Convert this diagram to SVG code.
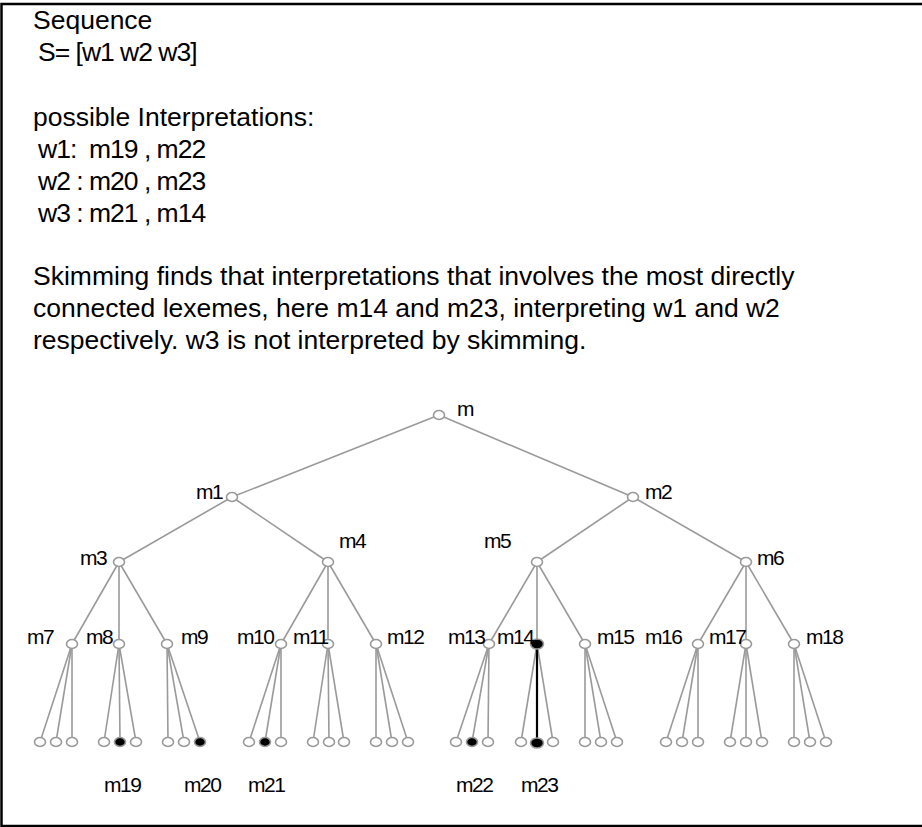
<svg xmlns="http://www.w3.org/2000/svg" width="922" height="827" viewBox="0 0 922 827">
  <style>
    .txt{font-family:"Liberation Sans",Arial,sans-serif;font-size:26.5px;fill:#000}
    .lbl{font-family:"Liberation Sans",Arial,sans-serif;font-size:21px;fill:#000;letter-spacing:-1.5px}
    .edge{stroke:#9a9a9a;stroke-width:1.6;fill:none}
    .strong{stroke:#000;stroke-width:2.2;fill:none}
    .node{fill:#fff;stroke:#9a9a9a;stroke-width:1.6}
    .hit{fill:#000;stroke:#9a9a9a;stroke-width:1.6}
  </style>

  <rect x="0" y="0" width="922" height="827" fill="#fff"/>
  <!-- outer frame (right edge runs past the canvas) -->
  <rect x="1.5" y="4" width="940" height="822" fill="none" stroke="#000" stroke-width="2.5"/>

  <!-- explanatory text -->
  <g id="notes" class="txt">
    <text x="33" y="29">Sequence</text>
    <text x="38" y="61" letter-spacing="-1">S= [w1 w2 w3]</text>
    <text x="33" y="126">possible Interpretations:</text>
    <text x="38" y="158" xml:space="preserve" letter-spacing="-1">w1:  m19 , m22</text>
    <text x="38" y="190" letter-spacing="-1">w2 : m20 , m23</text>
    <text x="38" y="222" letter-spacing="-1">w3 : m21 , m14</text>
    <text x="33" y="285">Skimming finds that interpretations that involves the most directly</text>
    <text x="33" y="317">connected lexemes, here m14 and m23, interpreting w1 and w2</text>
    <text x="33" y="349">respectively. w3 is not interpreted by skimming.</text>
  </g>

  <!-- tree edges -->
  <g id="connectors">
    <g class="edge">
      <line x1="439" y1="415" x2="232" y2="497"/>
      <line x1="439" y1="415" x2="633" y2="497"/>
      <line x1="232" y1="497" x2="119" y2="562"/>
      <line x1="232" y1="497" x2="328" y2="562"/>
      <line x1="633" y1="497" x2="537" y2="562"/>
      <line x1="633" y1="497" x2="746" y2="562"/>
      <line x1="119" y1="562" x2="72" y2="644"/>
      <line x1="119" y1="562" x2="119" y2="644"/>
      <line x1="119" y1="562" x2="167" y2="644"/>
      <line x1="328" y1="562" x2="281" y2="644"/>
      <line x1="328" y1="562" x2="328" y2="644"/>
      <line x1="328" y1="562" x2="376" y2="644"/>
      <line x1="537" y1="562" x2="489" y2="644"/>
      <line x1="537" y1="562" x2="537" y2="644"/>
      <line x1="537" y1="562" x2="585" y2="644"/>
      <line x1="746" y1="562" x2="698" y2="644"/>
      <line x1="746" y1="562" x2="746" y2="644"/>
      <line x1="746" y1="562" x2="794" y2="644"/>
      <!-- m7 -->
      <line x1="72" y1="644" x2="40" y2="742"/>
      <line x1="72" y1="644" x2="56" y2="742"/>
      <line x1="72" y1="644" x2="72" y2="742"/>
      <!-- m8 -->
      <line x1="119" y1="644" x2="104" y2="742"/>
      <line x1="119" y1="644" x2="120" y2="742"/>
      <line x1="119" y1="644" x2="136" y2="742"/>
      <!-- m9 -->
      <line x1="167" y1="644" x2="168" y2="742"/>
      <line x1="167" y1="644" x2="184" y2="742"/>
      <line x1="167" y1="644" x2="200" y2="742"/>
      <!-- m10 -->
      <line x1="281" y1="644" x2="249" y2="742"/>
      <line x1="281" y1="644" x2="265" y2="742"/>
      <line x1="281" y1="644" x2="281" y2="742"/>
      <!-- m11 -->
      <line x1="328" y1="644" x2="313" y2="742"/>
      <line x1="328" y1="644" x2="329" y2="742"/>
      <line x1="328" y1="644" x2="344" y2="742"/>
      <!-- m12 -->
      <line x1="376" y1="644" x2="376" y2="742"/>
      <line x1="376" y1="644" x2="392" y2="742"/>
      <line x1="376" y1="644" x2="408" y2="742"/>
      <!-- m13 -->
      <line x1="489" y1="644" x2="456" y2="742"/>
      <line x1="489" y1="644" x2="472" y2="742"/>
      <line x1="489" y1="644" x2="488" y2="742"/>
      <!-- m14 -->
      <line x1="537" y1="644" x2="521" y2="742"/>
      <line x1="537" y1="644" x2="553" y2="742"/>
      <!-- m15 -->
      <line x1="585" y1="644" x2="585" y2="742"/>
      <line x1="585" y1="644" x2="601" y2="742"/>
      <line x1="585" y1="644" x2="617" y2="742"/>
      <!-- m16 -->
      <line x1="698" y1="644" x2="666" y2="742"/>
      <line x1="698" y1="644" x2="682" y2="742"/>
      <line x1="698" y1="644" x2="698" y2="742"/>
      <!-- m17 -->
      <line x1="746" y1="644" x2="730" y2="742"/>
      <line x1="746" y1="644" x2="746" y2="742"/>
      <line x1="746" y1="644" x2="762" y2="742"/>
      <!-- m18 -->
      <line x1="794" y1="644" x2="794" y2="742"/>
      <line x1="794" y1="644" x2="810" y2="742"/>
      <line x1="794" y1="644" x2="826" y2="742"/>
    </g>
    <!-- path m14 to m23 -->
    <line class="strong" x1="537" y1="646" x2="537" y2="742"/>
  </g>

  <!-- inner nodes -->
  <g id="m"><ellipse class="node" cx="439" cy="415" rx="5.5" ry="4.5"/><text class="lbl" x="457" y="416">m</text></g>
  <g id="m1"><ellipse class="node" cx="232" cy="497" rx="5.5" ry="4.5"/><text class="lbl" x="196" y="499">m1</text></g>
  <g id="m2"><ellipse class="node" cx="633" cy="497" rx="5.5" ry="4.5"/><text class="lbl" x="645" y="499">m2</text></g>
  <g id="m3"><ellipse class="node" cx="119" cy="562" rx="5.5" ry="4.5"/><text class="lbl" x="80" y="565">m3</text></g>
  <g id="m4"><ellipse class="node" cx="328" cy="562" rx="5.5" ry="4.5"/><text class="lbl" x="339" y="548">m4</text></g>
  <g id="m5"><ellipse class="node" cx="537" cy="562" rx="5.5" ry="4.5"/><text class="lbl" x="484" y="548">m5</text></g>
  <g id="m6"><ellipse class="node" cx="746" cy="562" rx="5.5" ry="4.5"/><text class="lbl" x="757" y="565">m6</text></g>
  <g id="m7"><ellipse class="node" cx="72" cy="644" rx="5.5" ry="4.5"/><text class="lbl" x="27" y="644">m7</text></g>
  <g id="m8"><ellipse class="node" cx="119" cy="644" rx="5.5" ry="4.5"/><text class="lbl" x="86" y="644">m8</text></g>
  <g id="m9"><ellipse class="node" cx="167" cy="644" rx="5.5" ry="4.5"/><text class="lbl" x="181" y="644">m9</text></g>
  <g id="m10"><ellipse class="node" cx="281" cy="644" rx="5.5" ry="4.5"/><text class="lbl" x="237" y="644">m10</text></g>
  <g id="m11"><ellipse class="node" cx="328" cy="644" rx="5.5" ry="4.5"/><text class="lbl" x="293" y="644">m11</text></g>
  <g id="m12"><ellipse class="node" cx="376" cy="644" rx="5.5" ry="4.5"/><text class="lbl" x="387" y="644">m12</text></g>
  <g id="m13"><ellipse class="node" cx="489" cy="644" rx="5.5" ry="4.5"/><text class="lbl" x="448" y="644">m13</text></g>
  <g id="m14"><ellipse class="hit" cx="537" cy="644" rx="6.5" ry="5"/><text class="lbl" x="497" y="644">m14</text></g>
  <g id="m15"><ellipse class="node" cx="585" cy="644" rx="5.5" ry="4.5"/><text class="lbl" x="597" y="644">m15</text></g>
  <g id="m16"><ellipse class="node" cx="698" cy="644" rx="5.5" ry="4.5"/><text class="lbl" x="645" y="644">m16</text></g>
  <g id="m17"><ellipse class="node" cx="746" cy="644" rx="5.5" ry="4.5"/><text class="lbl" x="709" y="644">m17</text></g>
  <g id="m18"><ellipse class="node" cx="794" cy="644" rx="5.5" ry="4.5"/><text class="lbl" x="806" y="644">m18</text></g>

  <!-- leaves -->
  <g id="leaves">
    <ellipse class="node" cx="40" cy="742" rx="5.5" ry="4.5"/>
    <ellipse class="node" cx="56" cy="742" rx="5.5" ry="4.5"/>
    <ellipse class="node" cx="72" cy="742" rx="5.5" ry="4.5"/>
    <ellipse class="node" cx="104" cy="742" rx="5.5" ry="4.5"/>
    <ellipse class="node" cx="136" cy="742" rx="5.5" ry="4.5"/>
    <ellipse class="node" cx="168" cy="742" rx="5.5" ry="4.5"/>
    <ellipse class="node" cx="184" cy="742" rx="5.5" ry="4.5"/>
    <ellipse class="node" cx="249" cy="742" rx="5.5" ry="4.5"/>
    <ellipse class="node" cx="281" cy="742" rx="5.5" ry="4.5"/>
    <ellipse class="node" cx="313" cy="742" rx="5.5" ry="4.5"/>
    <ellipse class="node" cx="329" cy="742" rx="5.5" ry="4.5"/>
    <ellipse class="node" cx="344" cy="742" rx="5.5" ry="4.5"/>
    <ellipse class="node" cx="376" cy="742" rx="5.5" ry="4.5"/>
    <ellipse class="node" cx="392" cy="742" rx="5.5" ry="4.5"/>
    <ellipse class="node" cx="408" cy="742" rx="5.5" ry="4.5"/>
    <ellipse class="node" cx="456" cy="742" rx="5.5" ry="4.5"/>
    <ellipse class="node" cx="488" cy="742" rx="5.5" ry="4.5"/>
    <ellipse class="node" cx="521" cy="742" rx="5.5" ry="4.5"/>
    <ellipse class="node" cx="553" cy="742" rx="5.5" ry="4.5"/>
    <ellipse class="node" cx="585" cy="742" rx="5.5" ry="4.5"/>
    <ellipse class="node" cx="601" cy="742" rx="5.5" ry="4.5"/>
    <ellipse class="node" cx="617" cy="742" rx="5.5" ry="4.5"/>
    <ellipse class="node" cx="666" cy="742" rx="5.5" ry="4.5"/>
    <ellipse class="node" cx="682" cy="742" rx="5.5" ry="4.5"/>
    <ellipse class="node" cx="698" cy="742" rx="5.5" ry="4.5"/>
    <ellipse class="node" cx="730" cy="742" rx="5.5" ry="4.5"/>
    <ellipse class="node" cx="746" cy="742" rx="5.5" ry="4.5"/>
    <ellipse class="node" cx="762" cy="742" rx="5.5" ry="4.5"/>
    <ellipse class="node" cx="794" cy="742" rx="5.5" ry="4.5"/>
    <ellipse class="node" cx="810" cy="742" rx="5.5" ry="4.5"/>
    <ellipse class="node" cx="826" cy="742" rx="5.5" ry="4.5"/>
  </g>

  <!-- interpretation leaves -->
  <g id="m19"><ellipse class="hit" cx="120" cy="742" rx="5.5" ry="4.5"/><text class="lbl" x="104" y="792">m19</text></g>
  <g id="m20"><ellipse class="hit" cx="200" cy="742" rx="5.5" ry="4.5"/><text class="lbl" x="184" y="792">m20</text></g>
  <g id="m21"><ellipse class="hit" cx="265" cy="742" rx="5.5" ry="4.5"/><text class="lbl" x="248" y="792">m21</text></g>
  <g id="m22"><ellipse class="hit" cx="472" cy="742" rx="5.5" ry="4.5"/><text class="lbl" x="456" y="792">m22</text></g>
  <g id="m23"><ellipse class="hit" cx="537" cy="743" rx="6.5" ry="5"/><text class="lbl" x="521" y="792">m23</text></g>
</svg>
